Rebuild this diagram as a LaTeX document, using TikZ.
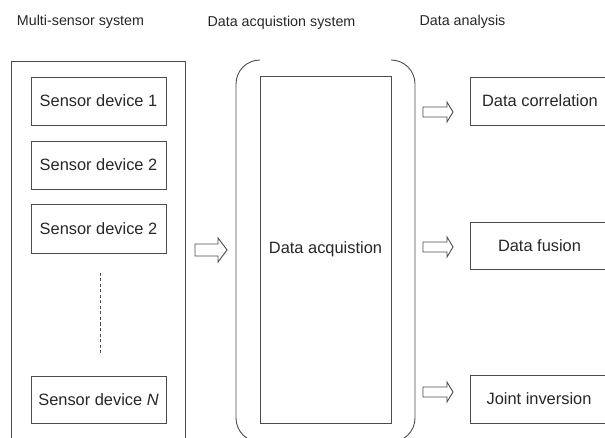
\documentclass[tikz,border=0pt]{standalone}
\usepackage{fontspec}
\setmainfont{Liberation Sans}
\begin{document}
\begin{tikzpicture}[x=1pt,y=-1pt,
  ln/.style={draw=black!70, line width=0.9pt},
  box/.style={ln, rectangle, inner sep=0pt, font=\fontsize{16.4}{19}\selectfont, text=black!85},
  lbl/.style={font=\fontsize{16.4}{19}\selectfont, text=black!85, inner sep=0pt},
  title/.style={font=\fontsize{14.3}{17}\selectfont, text=black!85, inner sep=0pt},
  pics/hollowarrow/.style n args={4}{code={%
    \draw[ln, line join=miter] (0,-#3) -- (#2,-#3) -- (#2,-#4) -- (#1,0) -- (#2,#4) -- (#2,#3) -- (0,#3) -- cycle;
  }}]
\useasboundingbox (0,0) rectangle (605,438);
\clip (0,0) rectangle (605,438);

% titles
\node[title] (t1) at (80.5,22) {Multi-sensor system};
\node[title] (t2) at (281.5,23) {Data acquistion system};
\node[title] (t3) at (462.5,22) {Data analysis};

% multi-sensor outer frame (open at bottom)
\draw[ln] (11,445) -- (11,61) -- (185,61) -- (185,445);

% sensor boxes
\node[box, minimum width=135, minimum height=48] (s1) at (98.5,101) {Sensor device 1};
\node[box, minimum width=135, minimum height=48] (s2) at (98.5,165) {Sensor device 2};
\node[box, minimum width=135, minimum height=49] (s3) at (98.5,228.5) {Sensor device 2};
\node[box, minimum width=135, minimum height=47] (sN) at (98.5,399.5) {Sensor device \textit{N}};
\coordinate (d1) at (100,273);
\coordinate (d2) at (100,353);
\draw[ln, dash pattern=on 3pt off 2.5pt] (d1) -- (d2);

% arrow into acquisition
\pic at (195,250) {hollowarrow={32}{23}{6}{12}};

% bracket
\draw[ln] (260,60) arc[start angle=-90, end angle=-180, radius=24] -- (236,418) arc[start angle=180, end angle=90, radius=24];
\draw[ln] (391,60) arc[start angle=-90, end angle=0, radius=24] -- (415,418) arc[start angle=0, end angle=90, radius=24];

% data acquisition box
\node[box, minimum width=131, minimum height=347] (da) at (325.5,249.5) {Data acquistion};

% right arrows
\pic at (423,112) {hollowarrow={30}{24}{5}{10}};
\pic at (423,247) {hollowarrow={30}{24}{5}{10}};
\pic at (423,392) {hollowarrow={30}{24}{5}{10}};

% analysis boxes (cut at right edge)
\node[box, minimum width=138, minimum height=48, anchor=west] (a1) at (470,101) {};
\node[box, minimum width=138, minimum height=47, anchor=west] (a2) at (470,245.5) {};
\node[box, minimum width=138, minimum height=48, anchor=west] (a3) at (470,399) {};
\node[lbl] (a1t) at (540,101) {Data correlation};
\node[lbl] (a2t) at (539.5,245.5) {Data fusion};
\node[lbl] (a3t) at (539,399) {Joint inversion};
\end{tikzpicture}
\end{document}
